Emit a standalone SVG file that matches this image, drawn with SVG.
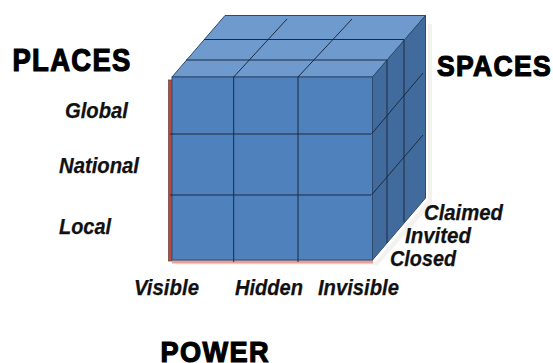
<svg xmlns="http://www.w3.org/2000/svg" width="553" height="363" viewBox="0 0 553 363">
<style>
.g{stroke:#1c2b3f;stroke-width:1;fill:none}
.e{stroke:#2c4a6e;stroke-width:1}
.l{font-family:"Liberation Sans",Arial,sans-serif;font-weight:bold;font-style:italic;font-size:22.500px;fill:#111;stroke:#111;stroke-width:.25}
.h{font-family:"Liberation Sans",Arial,sans-serif;font-weight:bold;fill:#000;stroke:#000;stroke-width:1.200;letter-spacing:1.500px}
</style>
<rect width="553" height="363" fill="#fff"/>
<g id="cube">
<polygon points="375,262 428,200 428,24 432,24 432,204 378,265 176,265 176,262" fill="#f3f2ee"/>
<rect x="168.500" y="80" width="4" height="181" fill="#c0453a" stroke="#6e4a45" stroke-width="0.800"/>
<rect x="172" y="260" width="201" height="3.500" fill="#e3a19a"/>
<polygon class="e" points="172,77 225,15.500 425.500,15.500 372.500,77" fill="#6f9ace"/>
<polygon class="e" points="372.500,77 425.500,15.500 425.500,198 372.500,260" fill="#416b9c"/>
<rect class="e" x="172" y="77" width="200.500" height="183" fill="#4f81bd"/>
</g>
<g id="connectors">
<path class="g" d="M204 39.500H404M186 60H387M233.700 77L287 19M298 77L352 19"/>
<path class="g" d="M170 134H371M170 195H371M233.700 77V262M298 77V262"/>
<path class="g" d="M387 60V243M404 40V222M371.500 134L423 73M371.500 195L423 135"/>
</g>
<g id="places"><text class="h" font-size="31" transform="translate(12.500 71) scale(.885 1)">PLACES</text></g>
<g id="spaces"><text class="h" font-size="30" transform="translate(437 76) scale(.885 1)">SPACES</text></g>
<g id="power"><text class="h" font-size="30" transform="translate(160.500 361.500) scale(.905 1)">POWER</text></g>
<g id="global"><text class="l" x="65" y="118" textLength="63" lengthAdjust="spacingAndGlyphs">Global</text></g>
<g id="national"><text class="l" x="59" y="172.500" textLength="80" lengthAdjust="spacingAndGlyphs">National</text></g>
<g id="local"><text class="l" x="59" y="234" textLength="52" lengthAdjust="spacingAndGlyphs">Local</text></g>
<g id="visible"><text class="l" x="134" y="295" textLength="65" lengthAdjust="spacingAndGlyphs">Visible</text></g>
<g id="hidden"><text class="l" x="235" y="295" textLength="68" lengthAdjust="spacingAndGlyphs">Hidden</text></g>
<g id="invisible"><text class="l" x="318" y="295" textLength="81" lengthAdjust="spacingAndGlyphs">Invisible</text></g>
<g id="claimed"><text class="l" x="424" y="220" textLength="79" lengthAdjust="spacingAndGlyphs">Claimed</text></g>
<g id="invited"><text class="l" x="405" y="243" textLength="66" lengthAdjust="spacingAndGlyphs">Invited</text></g>
<g id="closed"><text class="l" x="390" y="266" textLength="66" lengthAdjust="spacingAndGlyphs">Closed</text></g>
</svg>
